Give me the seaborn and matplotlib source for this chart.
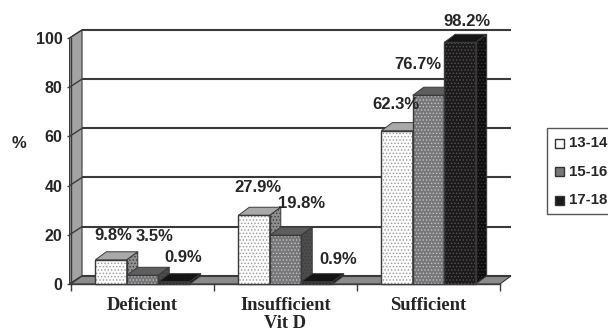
# -*- coding: utf-8 -*-
import pandas as pd
import matplotlib
matplotlib.use('Agg')
import matplotlib.pyplot as plt
from matplotlib.patches import Polygon, Rectangle
import seaborn as sns

# data
categories = ['Deficient', 'Insufficient', 'Sufficient']
age_groups = ['13-14', '15-16', '17-18']
val_13_14 = [9.8, 27.9, 62.3]
val_15_16 = [3.5, 19.8, 76.7]
val_17_18 = [0.9, 0.9, 98.2]
y_ticks = [0, 20, 40, 60, 80, 100]

df = pd.DataFrame({
    'cat': categories * 3,
    'age': [a for a in age_groups for _ in categories],
    'pct': val_13_14 + val_15_16 + val_17_18,
})

# style per series: front, top, side, hatch
front = {'13-14': '#fbfbfb', '15-16': '#77777a', '17-18': '#1c1a1b'}
top_col = {'13-14': '#a9a9a9', '15-16': '#5e5e5e', '17-18': '#141414'}
side_col = {'13-14': '#8f8f8f', '15-16': '#4d4d4d', '17-18': '#0e0e0e'}
hatch_col = {'13-14': '#9a9a9a', '15-16': '#c4c4c4', '17-18': '#555555'}
# label offsets from bar top centre, pixels
label_off = [(2, 24), (4, 28), (-1, 26), (12, 39), (16, 32), (-11, 31), (9, 24), (21, 22), (7, 21)]

W, H = 608, 331
DX, DY = 0.077, 3.3  # depth of the fake 3d box, data units
LINE = '#3a3a3a'
TEXT = '#262626'

sns.set_theme(style='white')
plt.rcParams['font.family'] = ['Liberation Sans', 'DejaVu Sans']
plt.rcParams['hatch.linewidth'] = 0.6

fig = plt.figure(figsize=(W / 100, H / 100), dpi=100)
ax = fig.add_axes([71 / W, 1 - 284 / H, (500 - 71) / W, (284 - 38) / H])

sns.barplot(data=df, x='cat', y='pct', hue='age', order=categories, hue_order=age_groups,
            palette=front, width=0.66, gap=0, saturation=1, legend=False, ax=ax)
ax.set_xlim(-0.5, 2.5)
ax.set_ylim(0, 100)
x0, x1 = ax.get_xlim()

# walls and floor
ax.add_patch(Polygon([(x0 - 0.01, 0), (x0 + DX, DY), (x0 + DX, 100 + DY), (x0 - 0.01, 100)],
                     fc='#a3a3a3', ec=LINE, lw=0.8, clip_on=False, zorder=1))
ax.add_patch(Polygon([(x0, 0), (x1, 0), (x1 + DX, DY), (x0 + DX, DY)],
                     fc='#8b8b8b', ec=LINE, lw=0.8, clip_on=False, zorder=1))
ax.hlines([t + DY for t in y_ticks], x0 + DX, x1 + DX, color=LINE, lw=1.5, clip_on=False, zorder=1.5)
for t in y_ticks:
    ax.plot([x0 - 0.01, x0 + DX], [t, t + DY], color=LINE, lw=1.0, clip_on=False, zorder=1.5)

# extrude every seaborn bar
bars = [b for b in ax.patches if isinstance(b, Rectangle) and b.get_width() < 0.5]
ordered = df['age'].tolist()
for i, bar in enumerate(bars):
    age = ordered[i]
    x, w, h = bar.get_x(), bar.get_width(), bar.get_height()
    z = 3 + x
    bar.set(edgecolor=hatch_col[age], hatch='.....', linewidth=0, zorder=z)
    ax.add_patch(Rectangle((x, 0), w, h, fc='none', ec=LINE, lw=1.0, zorder=z + 0.01, clip_on=False))
    ax.add_patch(Polygon([(x, h), (x + w, h), (x + w + DX, h + DY), (x + DX, h + DY)],
                         fc=top_col[age], ec=LINE, lw=0.7, zorder=z, clip_on=False))
    ax.add_patch(Polygon([(x + w, 0), (x + w + DX, DY), (x + w + DX, h + DY), (x + w, h)],
                         fc=side_col[age], ec=LINE, lw=0.7, zorder=z, hatch='.....', clip_on=False))
    ax.annotate(f'{df.pct[i]:.1f}%', xy=(x + w / 2, h), xytext=label_off[i], textcoords='offset pixels',
                ha='center', va='center', fontsize=12, fontweight='bold', color=TEXT,
                annotation_clip=False, zorder=20)

# axes
sns.despine(ax=ax, top=True, right=True)
for s in ['left', 'bottom']:
    ax.spines[s].set_color(LINE)
    ax.spines[s].set_linewidth(1.0)
ax.set_xticks([-0.5, 0.5, 1.5, 2.5], minor=False)
ax.set_xticklabels([])
ax.tick_params(axis='x', length=5, width=1, color=LINE, bottom=True)
ax.set_yticks(y_ticks)
ax.set_yticklabels(y_ticks, fontsize=11.5, fontweight='bold', color=TEXT)
ax.tick_params(axis='y', length=3, width=1, color=LINE, left=True, pad=3)
ax.set_xlabel('')
ax.set_ylabel('')

for i, c in enumerate(categories):
    ax.text(i, -8.6, c, ha='center', va='center', fontsize=13.3, fontweight='bold',
            family='Liberation Serif', color=TEXT, clip_on=False)
fig.text(285 / W, 1 - 324 / H, 'Vit D', ha='center', va='center', fontsize=13.3, fontweight='bold',
         family='Liberation Serif', color=TEXT)
fig.text(19 / W, 1 - 143 / H, '%', ha='center', va='center', fontsize=12, fontweight='bold', color=TEXT)

# legend box runs off the right edge like the reference
fig.patches.append(Rectangle((547 / W, 1 - 214 / H), 70 / W, 86 / H, transform=fig.transFigure,
                             fc='white', ec='#555555', lw=1.0, figure=fig))
for age, yp in zip(age_groups, [143, 172, 200]):
    fig.patches.append(Rectangle((555 / W, 1 - (yp + 4.5) / H), 9 / W, 9 / H, transform=fig.transFigure,
                                 fc=front[age], ec='#333333', lw=1.0, hatch='.', figure=fig))
    fig.text(569 / W, 1 - yp / H, age, ha='left', va='center', fontsize=10.8, fontweight='bold', color=TEXT)

fig.savefig('out.png', dpi=100)
